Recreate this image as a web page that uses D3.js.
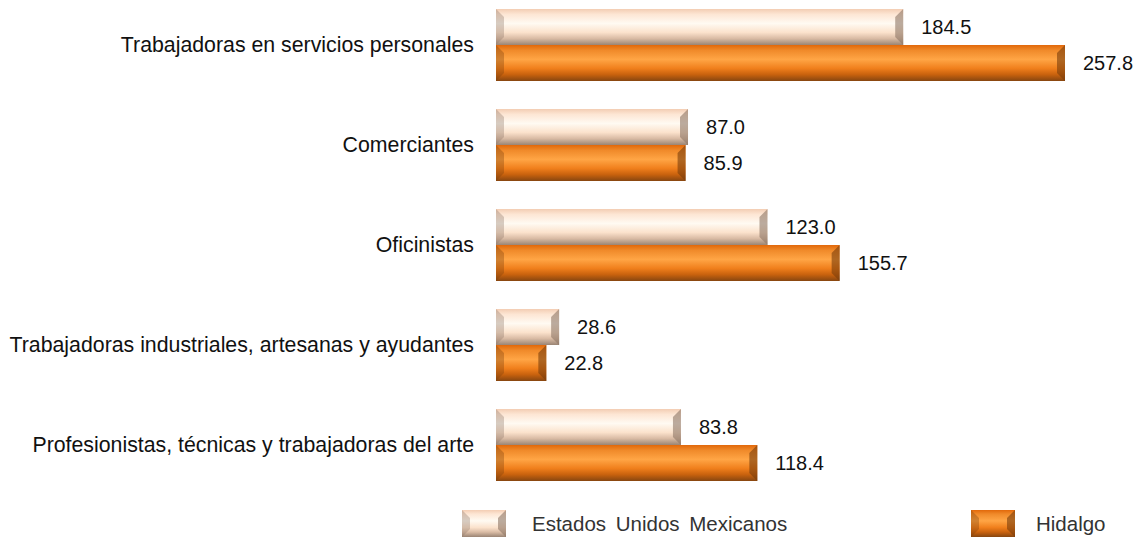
<!DOCTYPE html>
<html>
<head>
<meta charset="utf-8">
<script src="https://cdn.jsdelivr.net/npm/d3@7"></script>
<style>
  body { margin: 0; background: #fff; }
  text { font-family: "Liberation Sans", Arial, sans-serif; fill: #111; }
</style>
</head>
<body>
<svg id="chart" width="1138" height="539"></svg>
<script>
// data
const categories = [
    "Trabajadoras en servicios personales",
    "Comerciantes",
    "Oficinistas",
    "Trabajadoras industriales, artesanas y ayudantes",
    "Profesionistas, técnicas y trabajadoras del arte"
];
const seriesNames = ["Estados Unidos Mexicanos", "Hidalgo"];
const nacional = [184.5, 87.0, 123.0, 28.6, 83.8];
const hidalgo = [257.8, 85.9, 155.7, 22.8, 118.4];

const svg = d3.select("#chart");
const defs = svg.append("defs");

// vertical gradients giving the bevelled look
const palettes = [
    {id: "gNac", stops: [["0%", "#f3cdb3"], ["15%", "#fde6d4"], ["40%", "#fffaf2"], ["65%", "#fbe2cc"], ["82%", "#d9bba4"], ["100%", "#9a8474"]], edge: "#8d7666"},
    {id: "gHid", stops: [["0%", "#e2680a"], ["15%", "#f08a2a"], ["40%", "#ffa545"], ["65%", "#f07f1c"], ["82%", "#c9620e"], ["100%", "#874610"]], edge: "#7a3e0c"}
];
palettes.forEach(p => {
    const g = defs.append("linearGradient").attr("id", p.id)
        .attr("x1", 0).attr("y1", 0).attr("x2", 0).attr("y2", 1);
    p.stops.forEach(s => g.append("stop").attr("offset", s[0]).attr("stop-color", s[1]));
});

let x = d3.scaleLinear().domain([0, 257.8]).range([496, 1065]);
let y = d3.scaleBand().domain(categories).range([-5, 495]).paddingInner(0.28).paddingOuter(0.14);
let ySub = d3.scaleBand().domain(seriesNames).range([0, y.bandwidth()]);

function bevelBar(g, x0, y0, w, h, p) {
    const b = Math.min(8, w / 4, h / 3);
    g.append("rect").attr("x", x0).attr("y", y0).attr("width", w).attr("height", h)
        .attr("fill", `url(#${p.id})`);
    // left bevel
    g.append("path")
        .attr("d", `M${x0},${y0} L${x0 + b},${y0 + b} L${x0 + b},${y0 + h - b} L${x0},${y0 + h} Z`)
        .attr("fill", p.edge).attr("opacity", 0.35);
    // right bevel
    g.append("path")
        .attr("d", `M${x0 + w},${y0} L${x0 + w - b},${y0 + b} L${x0 + w - b},${y0 + h - b} L${x0 + w},${y0 + h} Z`)
        .attr("fill", p.edge).attr("opacity", 0.6);
}

const series = [nacional, hidalgo];

categories.forEach((c, i) => {
    const grp = svg.append("g");
    series.forEach((vals, s) => {
        const y0 = y(c) + ySub(seriesNames[s]);
        const h = ySub.bandwidth();
        bevelBar(grp, x(0), y0, x(vals[i]) - x(0), h, palettes[s]);
        grp.append("text")
            .attr("x", x(vals[i]) + 18)
            .attr("y", y0 + h / 2)
            .attr("dy", "0.35em")
            .style("font-size", "20px")
            .text(vals[i].toFixed(1));
    });
    grp.append("text")
        .attr("x", 474)
        .attr("y", y(c) + y.bandwidth() / 2)
        .attr("dy", "0.35em")
        .attr("text-anchor", "end")
        .style("font-size", "21.3px")
        .text(c);
});

// legend
const legendX = [462, 971];
const legendTextX = [532, 1036];
seriesNames.forEach((n, s) => {
    const lg = svg.append("g");
    bevelBar(lg, legendX[s], 510, 44, 27, palettes[s]);
    lg.append("text")
        .attr("x", legendTextX[s])
        .attr("y", 524)
        .attr("dy", "0.35em")
        .style("font-size", "20.5px")
        .style("word-spacing", "4px")
        .style("fill", "#333")
        .text(n);
});
</script>
</body>
</html>
